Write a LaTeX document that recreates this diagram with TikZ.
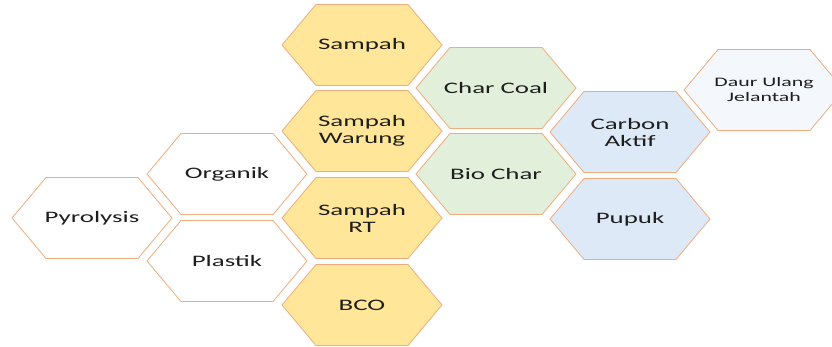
\documentclass[tikz,border=0pt]{standalone}
\usepackage{fontspec}
\setmainfont{Carlito}[FakeStretch=1.68]
\usetikzlibrary{backgrounds}

\definecolor{hexline}{RGB}{240,172,125}
\definecolor{hexyellow}{RGB}{255,230,153}
\definecolor{hexgreen}{RGB}{226,239,218}
\definecolor{hexblue}{RGB}{221,233,246}
\definecolor{hexpale}{RGB}{244,247,252}
\definecolor{hextext}{RGB}{30,30,30}

\begin{document}
\begin{tikzpicture}[x=1pt,y=-1pt,
	label/.style={align=center, text=hextext, inner sep=0pt,
		font=\fontsize{16}{17}\selectfont}]

	\clip (0,0) rectangle (832,346);

	% first columns
	\node[label] (pyro) at (92,218) {Pyrolysis};
	\node[label] (organik) at (227,174) {Organik};
	\node[label] (plastik) at (227,261) {Plastik};

	% sampah
	\node[label] (sampah) at (362,45) {Sampah};
	\node[label] (warung) at (362,131) {Sampah\\Warung};
	\node[label] (rt) at (362,218) {Sampah\\RT};
	\node[label] (bco) at (362,305) {BCO};

	% hasil
	\node[label] (charcoal) at (496,88) {Char Coal};
	\node[label] (biochar) at (496,174) {Bio Char};
	\node[label] (carbon) at (630,132) {Carbon\\Aktif};
	\node[label] (pupuk) at (630,219) {Pupuk};
	\node[label, font=\fontsize{13}{15}\selectfont] (jelantah) at (764,90) {Daur Ulang\\Jelantah};

	\begin{scope}[on background layer]
	\foreach \n / \c in {
	pyro/white, organik/white, plastik/white,
	sampah/hexyellow, warung/hexyellow, rt/hexyellow, bco/hexyellow,
	charcoal/hexgreen, biochar/hexgreen,
	carbon/hexblue, pupuk/hexblue,
	jelantah/hexpale}
	{
		\filldraw[fill=\c, draw=hexline, line width=0.8pt]
			([xshift=-80pt]\n.center) -- ++(34,-40.5) -- ++(92,0) -- ++(34,40.5)
			-- ++(-34,40.5) -- ++(-92,0) -- cycle;
	};
	\end{scope}
\end{tikzpicture}
\end{document}
